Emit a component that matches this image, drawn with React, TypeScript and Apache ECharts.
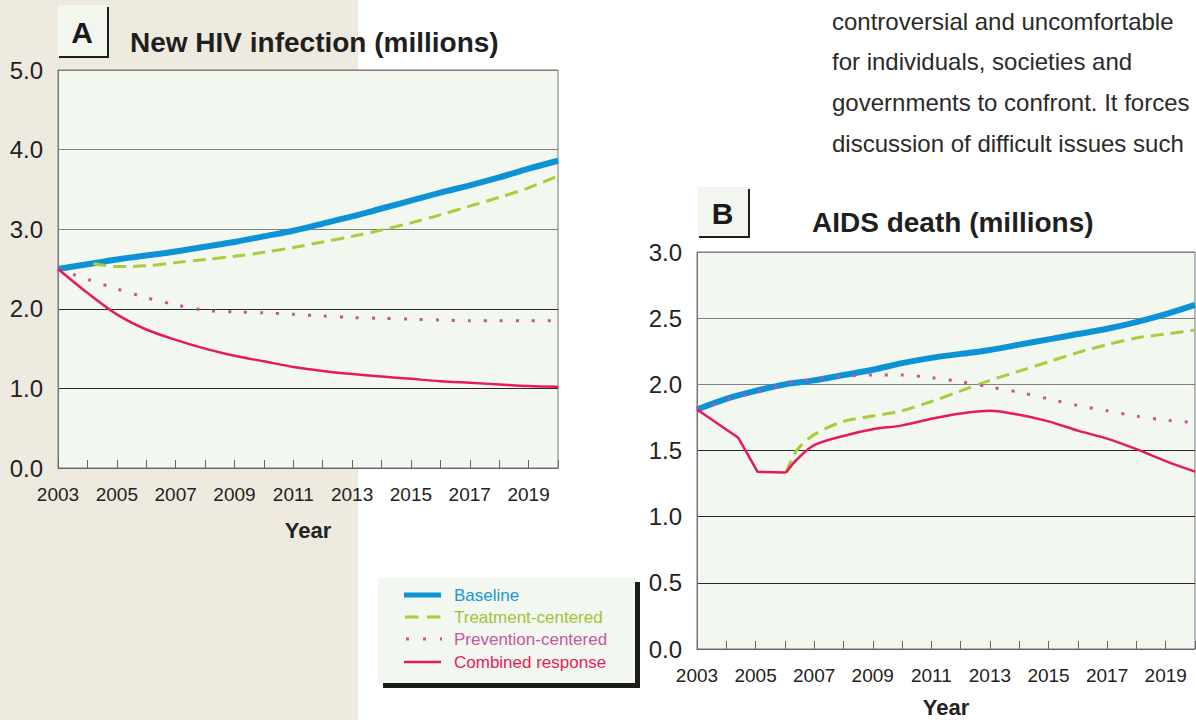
import React, { useEffect, useRef } from "react";
import * as echarts from "echarts";

const FONT = "'Liberation Sans', Arial, Helvetica, sans-serif";

// ---------- Panel A: New HIV infection (millions) ----------
const yearsA = [2003, 2004, 2005, 2006, 2007, 2008, 2009, 2010, 2011, 2012, 2013, 2014, 2015, 2016, 2017, 2018, 2019, 2020];
const baselineA = [2.5, 2.56, 2.62, 2.67, 2.72, 2.78, 2.84, 2.91, 2.98, 3.07, 3.16, 3.26, 3.36, 3.46, 3.55, 3.65, 3.76, 3.86];
const treatmentYearsA = [2004.2, 2005, 2006, 2007, 2008, 2009, 2010, 2011, 2012, 2013, 2014, 2015, 2016, 2017, 2018, 2019, 2020];
const treatmentA = [2.57, 2.53, 2.54, 2.58, 2.62, 2.66, 2.71, 2.77, 2.84, 2.91, 2.99, 3.08, 3.18, 3.29, 3.4, 3.52, 3.67];
const preventionA = [2.5, 2.37, 2.25, 2.14, 2.05, 1.98, 1.96, 1.95, 1.93, 1.91, 1.89, 1.88, 1.87, 1.86, 1.85, 1.85, 1.85, 1.85];
const combinedA = [2.5, 2.2, 1.93, 1.74, 1.61, 1.5, 1.41, 1.34, 1.27, 1.22, 1.18, 1.15, 1.12, 1.09, 1.07, 1.05, 1.03, 1.02];

// ---------- Panel B: AIDS death (millions) ----------
const yearsB = [2003, 2004, 2005, 2006, 2007, 2008, 2009, 2010, 2011, 2012, 2013, 2014, 2015, 2016, 2017, 2018, 2019, 2020];
const baselineB = [1.81, 1.89, 1.95, 2.0, 2.03, 2.07, 2.11, 2.16, 2.2, 2.23, 2.26, 2.3, 2.34, 2.38, 2.42, 2.47, 2.53, 2.6];
const treatmentYearsB = [2006.04, 2006.4, 2007, 2008, 2009, 2010, 2011, 2012, 2013, 2014, 2015, 2016, 2017, 2018, 2019, 2020];
const treatmentB = [1.334, 1.5, 1.62, 1.72, 1.76, 1.8, 1.87, 1.95, 2.03, 2.1, 2.17, 2.24, 2.3, 2.35, 2.38, 2.41];
const preventionB = [1.81, 1.88, 1.94, 2.0, 2.04, 2.06, 2.07, 2.07, 2.05, 2.02, 1.98, 1.94, 1.89, 1.84, 1.8, 1.76, 1.73, 1.71];
const combinedDropYearsB = [2003, 2004.41, 2005.07, 2006.04];
const combinedDropB = [1.81, 1.596, 1.339, 1.334];
const combinedRiseYearsB = [2006.04, 2006.4, 2007, 2008, 2009, 2010, 2011, 2012, 2013, 2014, 2015, 2016, 2017, 2018, 2019, 2020];
const combinedRiseB = [1.334, 1.43, 1.54, 1.61, 1.66, 1.69, 1.74, 1.78, 1.8, 1.77, 1.72, 1.65, 1.59, 1.51, 1.42, 1.34];

const legendNames = ["Baseline", "Treatment-centered", "Prevention-centered", "Combined response"];
const paragraph = [
  "controversial and uncomfortable",
  "for individuals, societies and",
  "governments to confront. It forces",
  "discussion of difficult issues such",
];

const COLORS = {
  baseline: "#0b93d6",
  treatment: "#a8cd3a",
  prevention: "#c94fa3",
  combined: "#e8185a",
};
const LEGEND_TEXT = ["#1a98d6", "#9dc43c", "#c656a3", "#e51b5b"];

const zip = (xs: number[], ys: number[]) => xs.map((x, i) => [x, ys[i]]);

function xAxisFor(gridIndex: number, nameGap: number) {
  return {
    type: "value",
    gridIndex,
    min: 2003,
    max: 2020,
    interval: 1,
    axisLine: { show: true, lineStyle: { color: "#666", width: 1 } },
    axisTick: { show: true, inside: true, length: 8, lineStyle: { color: "#666", width: 1 } },
    axisLabel: {
      formatter: (v: number) => (Math.round(v) % 2 === 1 ? String(Math.round(v)) : ""),
      fontSize: 19,
      color: "#222",
      margin: 17,
      fontFamily: FONT,
    },
    splitLine: { show: false },
    name: "Year",
    nameLocation: "middle",
    nameGap,
    nameTextStyle: { fontWeight: "bold", fontSize: 22, color: "#222", fontFamily: FONT },
  };
}

function yAxisFor(gridIndex: number, max: number, interval: number, colors: string[]) {
  return {
    type: "value",
    gridIndex,
    min: 0,
    max,
    interval,
    axisLine: { show: true, lineStyle: { color: "#777" } },
    axisTick: { show: false },
    axisLabel: {
      formatter: (v: number) => v.toFixed(1),
      fontSize: 24,
      color: "#222",
      margin: 15,
      fontFamily: FONT,
    },
    splitLine: { show: true, lineStyle: { color: colors, width: 1 } },
  };
}

function lineSeries(idx: number, data: number[][], kind: keyof typeof COLORS, smooth: number | boolean) {
  const base: any = {
    type: "line",
    xAxisIndex: idx,
    yAxisIndex: idx,
    data,
    symbol: "none",
    showSymbol: false,
    smooth,
    silent: true,
  };
  if (kind === "baseline") base.lineStyle = { color: COLORS.baseline, width: 6 };
  if (kind === "treatment") base.lineStyle = { color: COLORS.treatment, width: 3, type: [13, 7] };
  if (kind === "prevention") base.lineStyle = { color: COLORS.prevention, width: 3, type: [3, 13] };
  if (kind === "combined") base.lineStyle = { color: COLORS.combined, width: 2.5 };
  return base;
}

function legendGraphic() {
  const x0 = 378;
  const y0 = 578;
  const rows = [595, 617, 639, 662];
  const els: any[] = [
    { type: "rect", shape: { x: x0 + 5, y: y0 + 4, width: 257, height: 106 }, style: { fill: "#1c1c1c" }, z: 100 },
    { type: "rect", shape: { x: x0, y: y0, width: 257, height: 105 }, style: { fill: "#f2f7ef" }, z: 101 },
    { type: "line", shape: { x1: 404, y1: rows[0], x2: 441, y2: rows[0] }, style: { stroke: COLORS.baseline, lineWidth: 5 }, z: 102 },
    { type: "line", shape: { x1: 405, y1: rows[1], x2: 441, y2: rows[1] }, style: { stroke: COLORS.treatment, lineWidth: 3, lineDash: [13.5, 8.5] }, z: 102 },
    { type: "line", shape: { x1: 406, y1: rows[2], x2: 442, y2: rows[2] }, style: { stroke: COLORS.prevention, lineWidth: 3, lineDash: [3, 14] }, z: 102 },
    { type: "line", shape: { x1: 404, y1: rows[3], x2: 441, y2: rows[3] }, style: { stroke: COLORS.combined, lineWidth: 2.5 }, z: 102 },
  ];
  legendNames.forEach((n, i) => {
    els.push({
      type: "text",
      x: 454,
      y: rows[i],
      z: 102,
      style: { text: n, fill: LEGEND_TEXT[i], fontSize: 17, fontFamily: FONT, align: "left", verticalAlign: "middle" },
    });
  });
  return els;
}

function panelLabel(x: number, y: number, w: number, h: number, letter: string) {
  return [
    { type: "rect", shape: { x, y, width: w, height: h }, style: { fill: "#f2f6ef" }, z: 50 },
    { type: "line", shape: { x1: x + w, y1: y + 2, x2: x + w, y2: y + h }, style: { stroke: "#1e1e1e", lineWidth: 2 }, z: 51 },
    { type: "line", shape: { x1: x + 1, y1: y + h, x2: x + w + 1, y2: y + h }, style: { stroke: "#1e1e1e", lineWidth: 2 }, z: 51 },
    {
      type: "text",
      x: x + w / 2 - 1,
      y: y + h / 2 + 1,
      z: 52,
      style: { text: letter, fill: "#1a1a1a", fontSize: 30, fontWeight: "bold", fontFamily: FONT, align: "center", verticalAlign: "middle" },
    },
  ];
}

export default function App() {
  const ref = useRef<HTMLDivElement>(null);
  useEffect(() => {
    if (!ref.current) return;
    const chart = echarts.init(ref.current, undefined, { renderer: "svg" });
    const option: any = {
      animation: false,
      backgroundColor: "transparent",
      grid: [
        { left: 58, top: 70, width: 500, height: 398, show: true, backgroundColor: "#f2f7ef", borderColor: "#777", borderWidth: 1, containLabel: false, outerBoundsMode: "none" },
        { left: 697, top: 252, width: 498, height: 397, show: true, backgroundColor: "#f2f7ef", borderColor: "#777", borderWidth: 1, containLabel: false, outerBoundsMode: "none" },
      ],
      xAxis: [xAxisFor(0, 51), xAxisFor(1, 47)],
      yAxis: [
        yAxisFor(0, 5, 1, ["#666", "#2a2a2a", "#2a2a2a", "#808080", "#808080", "#808080"]),
        yAxisFor(1, 3, 0.5, ["#666", "#2a2a2a", "#2a2a2a", "#2a2a2a", "#808080", "#808080", "#808080"]),
      ],
      series: [
        lineSeries(0, zip(yearsA, baselineA), "baseline", 0.3),
        lineSeries(0, zip(treatmentYearsA, treatmentA), "treatment", 0.3),
        lineSeries(0, zip(yearsA, preventionA), "prevention", 0.3),
        lineSeries(0, zip(yearsA, combinedA), "combined", 0.3),
        lineSeries(1, zip(yearsB, baselineB), "baseline", 0.3),
        lineSeries(1, zip(treatmentYearsB, treatmentB), "treatment", 0.3),
        lineSeries(1, zip(yearsB, preventionB), "prevention", 0.3),
        lineSeries(1, zip(combinedDropYearsB, combinedDropB), "combined", false),
        lineSeries(1, zip(combinedRiseYearsB, combinedRiseB), "combined", 0.3),
      ],
      graphic: [
        ...panelLabel(58, 5, 50, 52, "A"),
        {
          type: "text",
          x: 130,
          y: 42,
          z: 52,
          style: { text: "New HIV infection (millions)", fill: "#1f1f1f", fontSize: 28, fontWeight: "bold", fontFamily: FONT, align: "left", verticalAlign: "middle" },
        },
        ...panelLabel(698, 187, 51, 50, "B"),
        {
          type: "text",
          x: 812,
          y: 222,
          z: 52,
          style: { text: "AIDS death (millions)", fill: "#1f1f1f", fontSize: 28, fontWeight: "bold", fontFamily: FONT, align: "left", verticalAlign: "middle" },
        },
        ...paragraph.map((t, i) => ({
          type: "text",
          x: 832,
          y: 21 + i * 40.7,
          z: 52,
          style: { text: t, fill: "#2a2a2a", fontSize: 24, fontFamily: FONT, align: "left", verticalAlign: "middle" },
        })),
        ...legendGraphic(),
      ],
    };
    chart.setOption(option);
    return () => chart.dispose();
  }, []);
  return (
    <div
      ref={ref}
      style={{
        position: "absolute",
        left: 0,
        top: 0,
        width: 1196,
        height: 720,
        background: "linear-gradient(to right, #eeeae0 0px, #eeeae0 358px, #ffffff 358px)",
      }}
    />
  );
}
